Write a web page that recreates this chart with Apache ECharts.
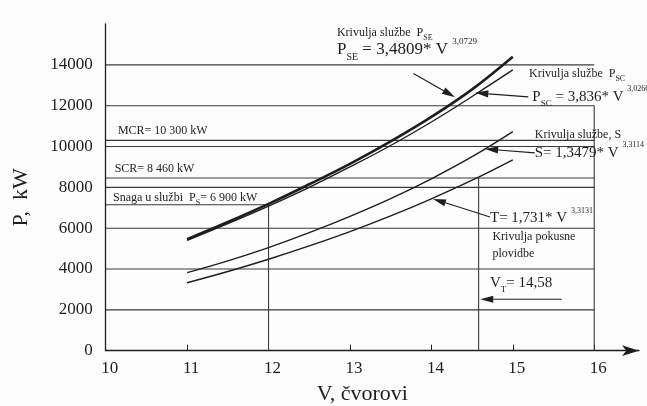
<!DOCTYPE html>
<html>
<head>
<meta charset="utf-8">
<script src="https://cdn.jsdelivr.net/npm/echarts@6/dist/echarts.min.js"></script>
<style>
html,body{margin:0;padding:0;background:#fdfdfd;}
#c{width:647px;height:406px;}
</style>
</head>
<body>
<div id="c"></div>
<script>
// ---- data ----
const vKnots   = [11, 11.5, 12, 12.5, 13, 13.5, 14, 14.5, 15];
const pSE      = [5460, 6300, 7190, 8150, 9150, 10250, 11450, 12800, 14400]; // Krivulja službe P_SE
const pSC      = [5400, 6220, 7080, 8000, 9000, 10050, 11200, 12450, 13750]; // Krivulja službe P_SC
const sService = [3820, 4400, 5050, 5780, 6580, 7450, 8420, 9500, 10730];    // Krivulja službe, S
const tTrial   = [3330, 3880, 4480, 5130, 5830, 6600, 7440, 8350, 9350];     // Krivulja pokusne plovidbe
const xTickLabels = [10, 11, 12, 13, 14, 15, 16];
const yTickLabels = [0, 2000, 4000, 6000, 8000, 10000, 12000, 14000];
const gridLevels  = [2000, 4000, 6000, 8000, 10000, 12000, 14000];
const mcrKW = 10300, scrKW = 8460, serviceKW = 7150;
const vService = 12, vTrial = 14.58, vEnd = 16, vStart = 10;

const FONT = '"Liberation Serif", "DejaVu Serif", serif';
const INK = '#1e1e1e';
const GRID = '#3a3a3a';

function pairs(xs, ys){ return xs.map((x,i)=>[x, ys[i]]); }

const series = [];
function guide(data, w){
  series.push({type:'line', data, symbol:'none', silent:true, animation:false,
    lineStyle:{color:GRID, width:w||1.1}, z:1});
}
gridLevels.forEach(l => guide([[vStart,l],[vEnd,l]]));
guide([[vStart,mcrKW],[vEnd,mcrKW]]);
guide([[vStart,scrKW],[vEnd,scrKW]]);
guide([[vStart,serviceKW],[vService,serviceKW],[vService,0]]);
guide([[vTrial,scrKW],[vTrial,0]]);
guide([[vEnd,12000],[vEnd,0]]);

function curve(name, ys, w){
  series.push({type:'line', name, data: pairs(vKnots, ys), smooth:0.4, symbol:'none',
    animation:false, lineStyle:{color:INK, width:w}, z:3});
}
curve('PSE', pSE, 2.6);
curve('PSC', pSC, 1.4);
curve('S', sService, 1.4);
curve('T', tTrial, 1.4);

const chart = echarts.init(document.getElementById('c'), null, {renderer:'canvas'});
chart.setOption({
  backgroundColor:'#fdfdfd',
  animation:false,
  grid:{left:105.7, right:8, top:24, bottom:55.3, outerBoundsMode:'none', containLabel:false},
  xAxis:{
    type:'value', min:10, max:16.55, interval:1,
    name:'V, čvorovi', nameLocation:'middle', nameGap:33,
    nameTextStyle:{fontFamily:FONT, fontSize:22, color:INK, padding:[0,20,0,0]},
    axisLine:{lineStyle:{color:INK, width:1.3}, symbol:['none','arrow'], symbolSize:[8,17], symbolOffset:[0,0]},
    axisTick:{show:true, inside:true, length:6, customValues:[11,12,13,14,15,16], lineStyle:{color:INK}},
    axisLabel:{customValues:xTickLabels, fontFamily:FONT, fontSize:17, color:INK, margin:9,
      formatter:(v)=>String(v), padding:[0,0,0,8]},
    splitLine:{show:false}
  },
  yAxis:{
    type:'value', min:0, max:16000, interval:2000,
    name:'P,  kW', nameLocation:'middle', nameGap:73,
    nameTextStyle:{fontFamily:FONT, fontSize:22, color:INK, padding:[0,0,0,-20]},
    axisLine:{show:true, lineStyle:{color:INK, width:1.3}},
    axisTick:{show:false},
    axisLabel:{customValues:yTickLabels, fontFamily:FONT, fontSize:17, color:INK, margin:13,
      formatter:(v)=>String(v)},
    splitLine:{show:false}
  },
  series
});

// ---- annotations, anchored in data coordinates ----
const px = (v,p) => chart.convertToPixel({gridIndex:0}, [v,p]);
const richBase = (fs) => ({
  m:{fontFamily:FONT, fontSize:fs, fill:INK, lineHeight:Math.round(fs*1.5), verticalAlign:'middle'},
  sub:{fontFamily:FONT, fontSize:Math.max(8, Math.round(fs*0.6)), fill:INK, verticalAlign:'bottom'},
  sup:{fontFamily:FONT, fontSize:Math.max(8, Math.round(fs*0.55)), fill:INK, verticalAlign:'top'}
});
const graphics = [];
function label(v,p,text,fs){
  const [x,y] = px(v,p);
  graphics.push({type:'text', x, y, silent:true, z:10,
    style:{text, rich:richBase(fs), fontFamily:FONT, fontSize:fs, fill:INK, align:'left', verticalAlign:'middle'}});
}
function arrow(v0,p0,v1,p1){
  const [x0,y0] = px(v0,p0), [x1,y1] = px(v1,p1);
  const dx = x1-x0, dy = y1-y0, L = Math.hypot(dx,dy), ux = dx/L, uy = dy/L;
  const hl = 13, hw = 3.6;
  const bx = x1-ux*hl, by = y1-uy*hl;
  graphics.push({type:'line', silent:true, z:10, shape:{x1:x0,y1:y0,x2:bx,y2:by}, style:{stroke:INK, lineWidth:1.1}});
  graphics.push({type:'polygon', silent:true, z:10, shape:{points:[[x1,y1],[bx-uy*hw,by+ux*hw],[bx+uy*hw,by-ux*hw]]}, style:{fill:INK}});
}

label(12.84, 15569, '{m|Krivulja službe  P}{sub|SE}', 12);
label(12.84, 14734, '{m|P}{sub|SE}{m| = 3,4809* V }{sup|3,0729}', 17);
arrow(13.78, 13576, 14.29, 12417);

label(15.20, 13559, '{m|Krivulja službe  P}{sub|SC}', 12);
label(15.24, 12432, '{m|P}{sub|SC}{m| = 3,836* V }{sup|3,0266}', 15);
arrow(15.19, 12432, 14.54, 12628);

label(15.27, 10570, '{m|Krivulja službe, S}', 12);
label(15.27, 9688, '{m|S= 1,3479* V }{sup|3,3114}', 15);
arrow(15.27, 9688, 14.66, 9884);

label(14.72, 6502, '{m|T= 1,731* V }{sup|3,3131}', 15);
arrow(14.72, 6551, 14.02, 7433);
label(14.75, 5571, '{m|Krivulja pokusne}', 12);
label(14.75, 4738, '{m|plovidbe}', 12);

label(14.72, 3317, '{m|V}{sub|T}{m|= 14,58}', 15);
arrow(15.60, 2519, 14.60, 2519);

label(10.15, 10769, '{m|MCR= 10 300 kW}', 12);
label(10.11, 8908, '{m|SCR= 8 460 kW}', 12);
label(10.09, 7482, '{m|Snaga u službi  P}{sub|S}{m|= 6 900 kW}', 12);

chart.setOption({graphic: graphics});
</script>
</body>
</html>
